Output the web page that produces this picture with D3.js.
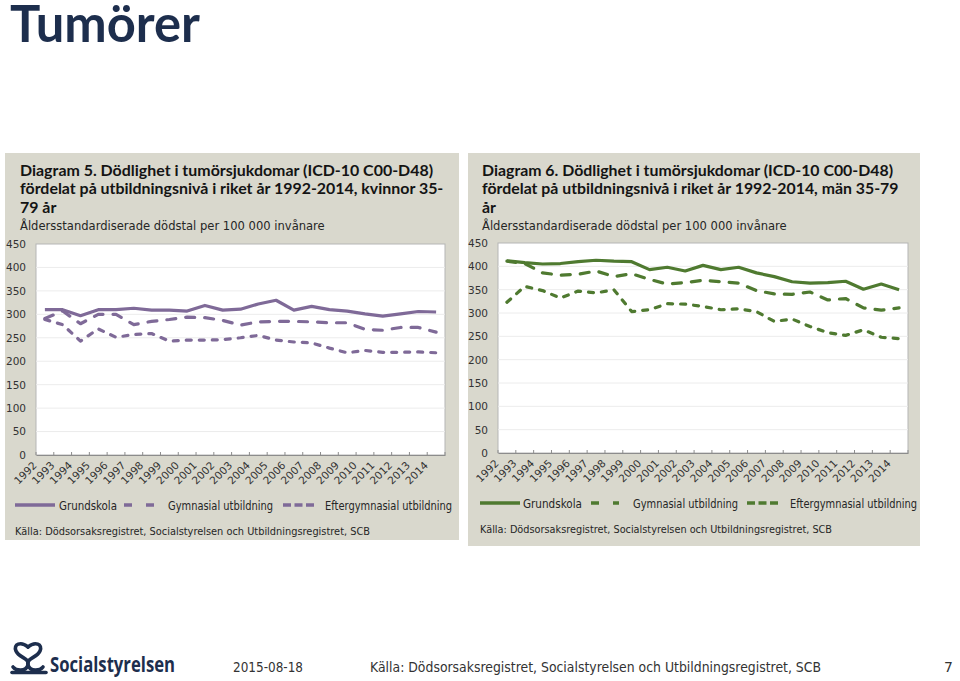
<!DOCTYPE html>
<html><head><meta charset="utf-8">
<script src="https://cdn.jsdelivr.net/npm/d3@7"></script>
<style>
html,body{margin:0;padding:0;background:#fff;}
svg{display:block;font-family:"DejaVu Sans",sans-serif;}
</style></head>
<body>
<svg id="chart" width="960" height="681"></svg>
<script>
// ---------- DATA ----------
const years = ["1992","1993","1994","1995","1996","1997","1998","1999","2000","2001","2002","2003","2004","2005","2006","2007","2008","2009","2010","2011","2012","2013","2014"];
const yTicks = [0,50,100,150,200,250,300,350,400,450];
const seriesNames = ["Grundskola","Gymnasial utbildning","Eftergymnasial utbildning"];

// Diagram 5 – kvinnor 35-79 år
const womenGrundskola = [310,310,297,310,310,313,309,309,307,319,309,311,322,330,309,317,310,307,301,296,301,306,305];
const womenGymnasial  = [291,307,280,300,300,278,285,289,294,293,287,277,284,285,285,284,282,282,268,266,272,272,262];
const womenEfter      = [289,278,243,269,251,257,259,243,245,245,246,250,255,245,241,239,228,218,223,219,219,220,218];

// Diagram 6 – män 35-79 år
const menGrundskola = [412,408,405,406,410,413,411,410,393,398,390,402,393,398,386,378,367,364,365,368,351,362,350];
const menGymnasial  = [411,406,386,381,383,390,378,384,372,362,365,370,367,364,348,341,340,345,328,331,311,306,311];
const menEfter      = [323,357,348,332,347,343,350,303,307,320,319,314,307,309,303,282,287,271,258,252,264,248,245];

const pageTitle = "Tumörer";
const subtitle = "Åldersstandardiserade dödstal  per 100 000 invånare";
const sourceText = "Källa: Dödsorsaksregistret, Socialstyrelsen och  Utbildningsregistret, SCB";

// ---------- DRAW ----------
const svg = d3.select("#chart");
const navy = "#1d2e4d";
const textCol = "#262626";

// scale a text's font-size so its natural width equals w; returns new size
function fit(sel, w){
  const L = sel.node().getComputedTextLength();
  const fs = +sel.attr("font-size") * w / L;
  sel.attr("font-size", fs.toFixed(2));
  return fs;
}

fit(svg.append("text").attr("x",10).attr("y",42).attr("fill",navy)
  .attr("font-size",48).attr("font-family","Lato").attr("font-weight","bold")
  .text(pageTitle), 190);

const dashes = [null, "9,10", "5,8"];
const legendDashes = [null, "8,14", "8,3.5"];

function drawPanel(cfg){
  const g = svg.append("g");
  g.append("rect").attr("x",cfg.px).attr("y",153).attr("width",cfg.pw).attr("height",cfg.ph).attr("fill","#d9d8cd");
  // titles: size fitted on first line, reused for the rest
  let titleSize = 15;
  cfg.titleLines.forEach((t,i)=>{
    const tt = g.append("text").attr("x",cfg.tx).attr("y",176+i*18.3).attr("font-size",titleSize).attr("font-weight","bold")
      .attr("fill","#141414").attr("font-family","Lato").text(t);
    if(i===0) titleSize = fit(tt, cfg.titleWidth);
  });
  fit(g.append("text").attr("x",cfg.tx).attr("y",230).attr("font-size",12.5).attr("fill",textCol)
    .attr("font-family","DejaVu Sans").text(subtitle), 305);

  const x = d3.scalePoint(years,[cfg.left,cfg.right]).padding(0.5);
  const y = d3.scaleLinear([0,450],[cfg.bottom,cfg.top]);

  g.append("rect").attr("x",cfg.left).attr("y",cfg.top).attr("width",cfg.right-cfg.left).attr("height",cfg.bottom-cfg.top)
    .attr("fill","#fff").attr("stroke","#b5b5b5").attr("stroke-width",1);

  // gridlines
  g.append("g").selectAll("line").data(yTicks.filter(v=>v>0&&v<450)).join("line")
    .attr("x1",cfg.left).attr("x2",cfg.right).attr("y1",d=>y(d)).attr("y2",d=>y(d))
    .attr("stroke","#ececec").attr("stroke-width",1);

  // y axis labels
  const ya = g.append("g").attr("transform",`translate(${cfg.left},0)`)
    .call(d3.axisLeft(y).tickValues(yTicks).tickSize(0).tickPadding(10).tickFormat(d3.format("d")));
  ya.select(".domain").remove();
  ya.selectAll("text").attr("font-size",10.5).attr("fill","#333").attr("font-family","DejaVu Sans");

  // x axis
  const xa = g.append("g").attr("transform",`translate(0,${cfg.bottom})`)
    .call(d3.axisBottom(x).tickSize(0));
  xa.select(".domain").attr("stroke","#8c8c8c");
  xa.selectAll("text").attr("font-size",10.5).attr("fill","#333").attr("font-family","DejaVu Sans")
    .attr("x",0).attr("y",0).attr("dy",0).attr("text-anchor","end")
    .attr("transform","translate(-8,11) rotate(-45)");
  const step = x.step();
  const bounds = d3.range(years.length+1).map(k=>cfg.left + step*k);
  g.append("g").selectAll("line").data(bounds).join("line")
    .attr("x1",d=>d).attr("x2",d=>d).attr("y1",cfg.bottom).attr("y2",cfg.bottom-3)
    .attr("stroke","#8c8c8c");

  // lines
  const line = d3.line().x((d,i)=>x(years[i])).y(d=>y(d));
  cfg.series.forEach((s,i)=>{
    g.append("path").datum(s).attr("d",line).attr("fill","none")
      .attr("stroke",cfg.color).attr("stroke-width",3.2)
      .attr("stroke-linecap", i===0 ? "butt" : "round")
      .attr("stroke-linejoin","round")
      .attr("stroke-dasharray",dashes[i]);
  });

  // legend
  const ly = cfg.legendY;
  cfg.legend.forEach((L,i)=>{
    g.append("line").attr("x1",L.x1).attr("x2",L.x2).attr("y1",ly).attr("y2",ly)
      .attr("stroke",cfg.color).attr("stroke-width",3.5).attr("stroke-dasharray",legendDashes[i]);
    g.append("text").attr("x",L.tx).attr("y",ly+4.5).attr("font-size",12).attr("fill",textCol)
      .attr("textLength",L.tw).attr("lengthAdjust","spacingAndGlyphs").text(seriesNames[i]);
  });

  g.append("text").attr("x",cfg.srcX).attr("y",cfg.srcY).attr("font-size",11).attr("fill",textCol)
    .attr("textLength",cfg.srcW).attr("lengthAdjust","spacingAndGlyphs").text(sourceText);
}

drawPanel({
  px:5, pw:454, ph:387, tx:20,
  titleLines:["Diagram 5. Dödlighet i tumörsjukdomar (ICD-10 C00-D48)","fördelat på utbildningsnivå i riket år 1992-2014, kvinnor 35-","79 år"],
  titleWidth:413,
  left:36, right:445, top:244, bottom:455,
  color:"#7f6a98",
  series:[womenGrundskola,womenGymnasial,womenEfter],
  legendY:505,
  legend:[{x1:15,x2:55,tx:59,tw:58},{x1:124,x2:154,tx:168,tw:105},{x1:283,x2:314,tx:325,tw:127}],
  srcX:15, srcY:535, srcW:355
});

drawPanel({
  px:468, pw:452, ph:393, tx:482,
  titleLines:["Diagram 6. Dödlighet i tumörsjukdomar (ICD-10 C00-D48)","fördelat på utbildningsnivå i riket år 1992-2014, män 35-79","år"],
  titleWidth:411,
  left:498, right:908, top:243, bottom:453,
  color:"#4f7a30",
  series:[menGrundskola,menGymnasial,menEfter],
  legendY:503,
  legend:[{x1:480,x2:520,tx:523,tw:59},{x1:591,x2:619,tx:633,tw:105},{x1:747,x2:780,tx:790,tw:127}],
  srcX:480, srcY:533, srcW:352
});

// footer
const logo = svg.append("g").attr("fill","none").attr("stroke",navy).attr("stroke-width",3.6).attr("stroke-linecap","round");
logo.append("path").attr("d","M28 647 C21 641 13 644 16 651 C19 658 30 658 28 665 C26 672 16 671 13 667");
logo.append("path").attr("d","M28 647 C35 641 43 644 40 651 C37 658 26 658 28 665 C30 672 40 671 43 667");
logo.append("line").attr("x1",12).attr("x2",46).attr("y1",672.5).attr("y2",672.5);
svg.append("text").attr("x",50).attr("y",672).attr("font-size",22).attr("font-weight","bold")
  .attr("fill",navy).attr("font-family","Open Sans").attr("textLength",125).attr("lengthAdjust","spacingAndGlyphs").text("Socialstyrelsen");
svg.append("text").attr("x",233).attr("y",672).attr("font-size",14).attr("fill","#333")
  .attr("textLength",70).attr("lengthAdjust","spacingAndGlyphs").text("2015-08-18");
svg.append("text").attr("x",370).attr("y",672).attr("font-size",14).attr("fill","#333")
  .attr("textLength",451).attr("lengthAdjust","spacingAndGlyphs").text("Källa: Dödsorsaksregistret, Socialstyrelsen och Utbildningsregistret, SCB");
svg.append("text").attr("x",953).attr("y",672).attr("font-size",14).attr("fill","#333").attr("text-anchor","end").text("7");
</script>
</body></html>
